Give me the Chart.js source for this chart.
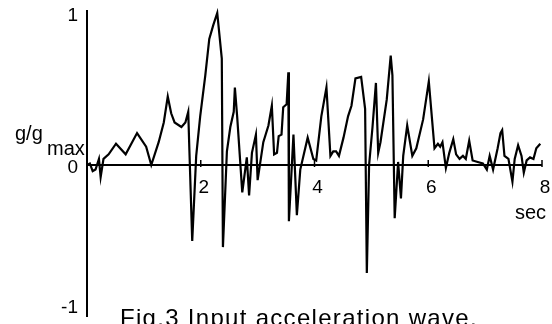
<!DOCTYPE html>
<html>
<head>
<meta charset="utf-8">
<script src="https://cdn.jsdelivr.net/npm/chart.js@4/dist/chart.umd.min.js"></script>
<style>
  html, body { margin: 0; padding: 0; background: #fff; }
  #wrap { width: 552px; height: 324px; position: relative; }
</style>
</head>
<body>
<div id="wrap"><canvas id="c" width="552" height="324"></canvas></div>
<script>
// ---- data ----
const timeSec = [
  0.00, 0.05, 0.10, 0.15, 0.21, 0.24, 0.29, 0.38, 0.51, 0.68,
  0.88, 1.04, 1.13, 1.26, 1.35, 1.42, 1.48, 1.54, 1.66, 1.73,
  1.78, 1.80, 1.85, 1.92, 1.99, 2.08, 2.15, 2.22, 2.29, 2.37,
  2.39, 2.46, 2.52, 2.58, 2.60, 2.64, 2.73, 2.81, 2.85, 2.90,
  2.97, 3.00, 3.10, 3.19, 3.25, 3.29, 3.34, 3.37, 3.42, 3.45,
  3.51, 3.54, 3.55, 3.63, 3.69, 3.75, 3.88, 3.98, 4.03, 4.12,
  4.21, 4.28, 4.33, 4.38, 4.43, 4.51, 4.59, 4.65, 4.72, 4.82,
  4.89, 4.92, 4.96, 5.02, 5.08, 5.12, 5.16, 5.27, 5.34, 5.37,
  5.41, 5.47, 5.52, 5.56, 5.63, 5.72, 5.79, 5.91, 6.01, 6.11,
  6.17, 6.21, 6.25, 6.31, 6.37, 6.44, 6.49, 6.55, 6.61, 6.66,
  6.72, 6.78, 6.87, 6.96, 7.03, 7.08, 7.14, 7.22, 7.27, 7.30,
  7.34, 7.41, 7.48, 7.52, 7.58, 7.64, 7.68, 7.73, 7.79, 7.85,
  7.90, 7.97
];
const accelRatio = [
  0.00, 0.01, -0.04, -0.03, 0.04, -0.08, 0.04, 0.07, 0.14, 0.07,
  0.21, 0.12, 0.00, 0.15, 0.28, 0.45, 0.34, 0.28, 0.25, 0.28,
  0.35, 0.10, -0.50, 0.06, 0.32, 0.59, 0.83, 0.92, 1.00, 0.70,
  -0.54, 0.09, 0.25, 0.35, 0.51, 0.32, -0.18, 0.05, -0.20, 0.08,
  0.20, -0.10, 0.15, 0.26, 0.39, 0.07, 0.08, 0.19, 0.20, 0.38,
  0.40, 0.61, -0.37, 0.20, -0.33, -0.03, 0.18, 0.04, 0.03, 0.32,
  0.51, 0.06, 0.09, 0.09, 0.06, 0.18, 0.32, 0.39, 0.57, 0.58,
  0.37, -0.71, 0.00, 0.25, 0.54, 0.08, 0.15, 0.43, 0.72, 0.59,
  -0.35, 0.02, -0.22, 0.06, 0.26, 0.06, 0.11, 0.30, 0.55, 0.11,
  0.14, 0.12, 0.15, -0.02, 0.08, 0.17, 0.07, 0.04, 0.06, 0.04,
  0.16, 0.03, 0.02, 0.01, -0.03, 0.06, -0.03, 0.11, 0.21, 0.23,
  0.06, 0.04, -0.11, 0.04, 0.13, 0.06, -0.05, 0.03, 0.05, 0.04,
  0.11, 0.14
];
const xTickValues = [2, 4, 6, 8];
const xTickLabels = ['2', '4', '6', '8'];
const yTickValues = [1, 0, -1];
const yTickLabels = ['1', '0', '-1'];
const yAxisTitle = 'g/g';
const yAxisSub = 'max';
const xAxisTitle = 'sec';
const caption = 'Fig.3 Input acceleration wave.';

const points = timeSec.map((t, i) => ({ x: t, y: accelRatio[i] }));

const FONT = '"Liberation Sans", Arial, sans-serif';

const axesPlugin = {
  id: 'handAxes',
  beforeDatasetsDraw(chart) {
    const { ctx, chartArea, scales } = chart;
    const xs = scales.x, ys = scales.y;
    const y0 = ys.getPixelForValue(0);
    const x0 = xs.getPixelForValue(0);
    ctx.save();
    ctx.strokeStyle = '#000';
    ctx.lineWidth = 2;
    ctx.beginPath();
    ctx.moveTo(x0, chartArea.top - 3);
    ctx.lineTo(x0, chartArea.bottom);
    ctx.stroke();
    ctx.beginPath();
    ctx.moveTo(x0, y0);
    ctx.lineTo(xs.getPixelForValue(8), y0);
    ctx.stroke();
    ctx.lineWidth = 1.5;
    xTickValues.forEach(v => {
      const px = xs.getPixelForValue(v);
      ctx.beginPath();
      ctx.moveTo(px, y0 - 5);
      ctx.lineTo(px, y0 + 2);
      ctx.stroke();
    });
    ctx.restore();
  },
  afterDraw(chart) {
    const { ctx, chartArea, scales } = chart;
    const xs = scales.x, ys = scales.y;
    const y0 = ys.getPixelForValue(0);
    const x0 = xs.getPixelForValue(0);
    ctx.save();
    ctx.fillStyle = '#000';
    // x tick labels
    ctx.font = '19px ' + FONT;
    ctx.textAlign = 'center';
    ctx.textBaseline = 'alphabetic';
    xTickValues.forEach((v, i) => {
      ctx.fillText(xTickLabels[i], xs.getPixelForValue(v) + 3, y0 + 28);
    });
    // y tick labels
    ctx.textAlign = 'right';
    ctx.textBaseline = 'middle';
    yTickValues.forEach((v, i) => {
      let py = ys.getPixelForValue(v) + 3;
      py = Math.min(py, chartArea.bottom - 9);
      ctx.fillText(yTickLabels[i], x0 - 9, py);
    });
    // y axis title g/g_max
    ctx.font = '20px ' + FONT;
    ctx.textAlign = 'left';
    ctx.textBaseline = 'alphabetic';
    ctx.fillText(yAxisTitle, 15, y0 - 25);
    ctx.fillText(yAxisSub, 47, y0 - 10);
    // x axis title
    ctx.fillText(xAxisTitle, 515, y0 + 54);
    // caption
    ctx.font = '24px ' + FONT;
    try { ctx.letterSpacing = '1.3px'; } catch (e) {}
    ctx.fillText(caption, 120, 326);
    ctx.restore();
  }
};

new Chart(document.getElementById('c'), {
  type: 'line',
  data: {
    datasets: [{
      data: points,
      borderColor: '#000',
      borderWidth: 2.2,
      pointRadius: 0,
      tension: 0,
      fill: false,
      clip: false
    }]
  },
  options: {
    responsive: false,
    animation: false,
    devicePixelRatio: 1,
    layout: { padding: { left: 87, right: 10, top: 13, bottom: 7 } },
    plugins: { legend: { display: false }, tooltip: { enabled: false }, title: { display: false } },
    scales: {
      x: { type: 'linear', min: 0, max: 8, display: false },
      y: { type: 'linear', min: -1, max: 1, display: false }
    }
  },
  plugins: [axesPlugin]
});
</script>
</body>
</html>
